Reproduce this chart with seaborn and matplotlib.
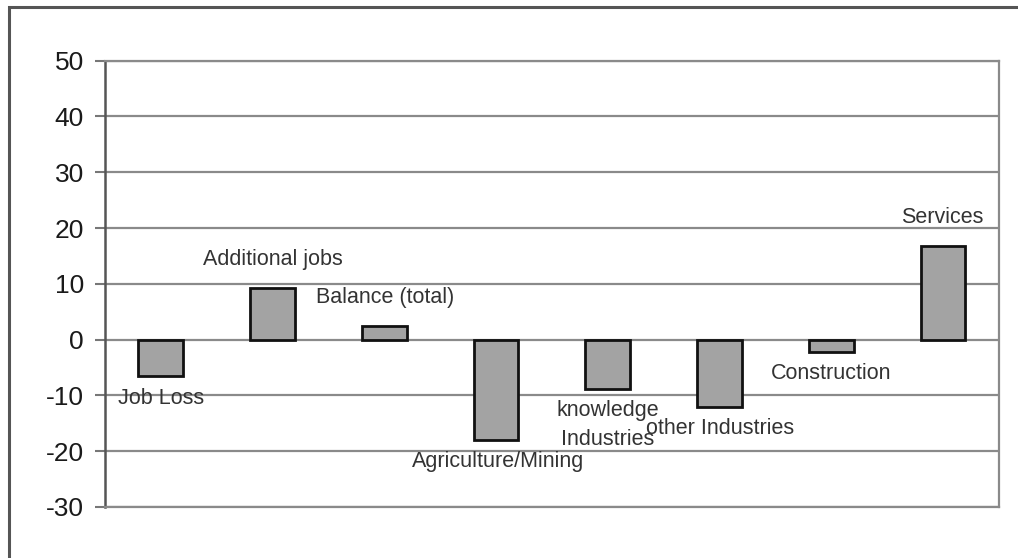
import matplotlib
matplotlib.use("Agg")
import matplotlib.pyplot as plt
import seaborn as sns
import pandas as pd
from matplotlib.patches import Rectangle

# Employment change by category
categories = ["Job Loss", "Additional jobs", "Balance (total)", "Agriculture/Mining",
              "knowledge\nIndustries", "other Industries", "Construction", "Services"]
values = [-6.5, 9.2, 2.5, -18.0, -8.8, -12.0, -2.3, 16.8]
y_ticks = [-30, -20, -10, 0, 10, 20, 30, 40, 50]

df = pd.DataFrame({"category": categories, "value": values})

sns.set_theme(style="white")
plt.rcParams["font.family"] = ["Liberation Sans", "DejaVu Sans"]

fig = plt.figure(figsize=(10.18, 5.58), dpi=100)
ax = fig.add_axes([0.1031, 0.0914, 0.8782, 0.7998])

# horizontal gridlines behind the bars
for t in y_ticks:
    ax.axhline(t, color="#8a8a8a", lw=1.6, zorder=0)

sns.barplot(data=df, x="category", y="value", color="#a3a3a3", edgecolor="#111111",
            linewidth=2.0, width=0.4, saturation=1, ax=ax, zorder=2)

ax.set_xlim(-0.5, len(categories) - 0.5)
ax.set_ylim(-30, 50)
ax.set_yticks(y_ticks)
ax.set_yticklabels([str(t) for t in y_ticks], fontsize=19, color="#1a1a1a")
ax.set_xticks([])
ax.set_xlabel("")
ax.set_ylabel("")
ax.tick_params(axis="y", which="major", left=True, length=7, width=1.5,
               color="#777777", pad=8)

for side in ["left", "right", "bottom", "top"]:
    ax.spines[side].set_visible(True)
    ax.spines[side].set_color("#8a8a8a")
    ax.spines[side].set_linewidth(1.6)
ax.spines["left"].set_color("#555555")
ax.spines["left"].set_linewidth(1.8)

# category labels placed near their bars (x index, y in data units)
label_pos = [(0.0, -10.5), (1.0, 14.4), (2.01, 7.5), (3.02, -21.8),
             (4.0, -15.3), (5.0, -15.9), (6.0, -6.0), (6.99, 21.9)]
for name, (lx, ly) in zip(categories, label_pos):
    ax.text(lx, ly, name, ha="center", va="center", fontsize=15.5,
            color="#333333", linespacing=1.55, zorder=3)

# outer chart frame
fig.patches.append(Rectangle((9 / 1018, -0.05), 1.2, 1 - 7 / 558 + 0.05,
                             transform=fig.transFigure, fill=False,
                             edgecolor="#555555", lw=2.2))

fig.savefig("out.png", dpi=100, facecolor="white")
